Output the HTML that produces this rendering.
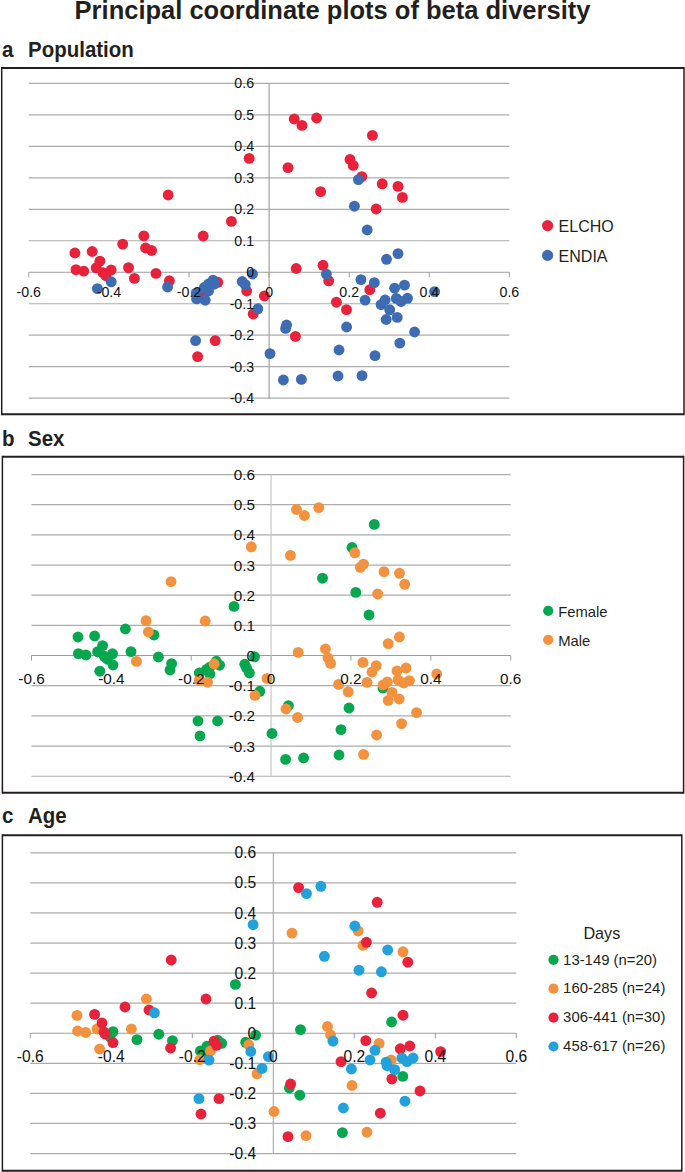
<!DOCTYPE html><html><head><meta charset="utf-8"><style>html,body{margin:0;padding:0;background:#fff}svg{display:block}</style></head><body><svg width="685" height="1172" viewBox="0 0 685 1172">
<style>.ax{font-family:"Liberation Sans",sans-serif;fill:#111}.lg{font:16px "Liberation Sans",sans-serif;fill:#231f20}.t{font:bold 25.5px "Liberation Sans",sans-serif;fill:#231f20}.h{font:bold 20.5px "Liberation Sans",sans-serif;fill:#231f20}</style>
<rect width="685" height="1172" fill="#fff"/>
<text x="332.5" y="19" text-anchor="middle" class="t">Principal coordinate plots of beta diversity</text>
<g transform="translate(0,57.0) scale(1,1.05)"><text x="2" y="0" class="h">a</text><text x="28" y="0" class="h">Population</text></g>
<g transform="translate(0,446.4) scale(1,1.05)"><text x="2" y="0" class="h">b</text><text x="28" y="0" class="h">Sex</text></g>
<g transform="translate(0,823.2) scale(1,1.05)"><text x="2" y="0" class="h">c</text><text x="28" y="0" class="h">Age</text></g>
<path d="M1.7,68.0H684.0M1.7,414.2H684.0" stroke="#231f20" stroke-width="1.9" fill="none"/>
<path d="M1.7,67.05V415.15M684.0,67.05V415.15" stroke="#231f20" stroke-width="1.5" fill="none"/>
<path d="M2.4,456.8H683.6M2.4,792.8H683.6" stroke="#231f20" stroke-width="1.9" fill="none"/>
<path d="M2.4,455.85V793.75M683.6,455.85V793.75" stroke="#231f20" stroke-width="1.5" fill="none"/>
<path d="M2.4,835.2H681.8M2.4,1170.8H681.8" stroke="#231f20" stroke-width="1.9" fill="none"/>
<path d="M2.4,834.25V1171.75M681.8,834.25V1171.75" stroke="#231f20" stroke-width="1.5" fill="none"/>
<line x1="28.8" y1="83.37" x2="509.4" y2="83.37" stroke="#acacac" stroke-width="1.2"/>
<line x1="28.8" y1="114.85" x2="509.4" y2="114.85" stroke="#acacac" stroke-width="1.2"/>
<line x1="28.8" y1="146.33" x2="509.4" y2="146.33" stroke="#acacac" stroke-width="1.2"/>
<line x1="28.8" y1="177.81" x2="509.4" y2="177.81" stroke="#acacac" stroke-width="1.2"/>
<line x1="28.8" y1="209.29" x2="509.4" y2="209.29" stroke="#acacac" stroke-width="1.2"/>
<line x1="28.8" y1="240.77" x2="509.4" y2="240.77" stroke="#acacac" stroke-width="1.2"/>
<line x1="28.8" y1="303.73" x2="509.4" y2="303.73" stroke="#acacac" stroke-width="1.2"/>
<line x1="28.8" y1="335.21" x2="509.4" y2="335.21" stroke="#acacac" stroke-width="1.2"/>
<line x1="28.8" y1="366.69" x2="509.4" y2="366.69" stroke="#acacac" stroke-width="1.2"/>
<line x1="28.8" y1="398.17" x2="509.4" y2="398.17" stroke="#acacac" stroke-width="1.2"/>
<line x1="28.8" y1="272.25" x2="509.4" y2="272.25" stroke="#9c9c9c" stroke-width="1.1"/>
<line x1="28.8" y1="272.25" x2="28.8" y2="277.25" stroke="#9c9c9c" stroke-width="1"/>
<line x1="108.9" y1="272.25" x2="108.9" y2="277.25" stroke="#9c9c9c" stroke-width="1"/>
<line x1="189" y1="272.25" x2="189" y2="277.25" stroke="#9c9c9c" stroke-width="1"/>
<line x1="269.1" y1="272.25" x2="269.1" y2="277.25" stroke="#9c9c9c" stroke-width="1"/>
<line x1="349.2" y1="272.25" x2="349.2" y2="277.25" stroke="#9c9c9c" stroke-width="1"/>
<line x1="429.3" y1="272.25" x2="429.3" y2="277.25" stroke="#9c9c9c" stroke-width="1"/>
<line x1="509.4" y1="272.25" x2="509.4" y2="277.25" stroke="#9c9c9c" stroke-width="1"/>
<line x1="269.1" y1="83.37" x2="269.1" y2="398.17" stroke="#9a9a9a" stroke-width="1.1"/>
<circle cx="294.2" cy="119" r="5.45" fill="#e8223a"/>
<circle cx="302" cy="125.4" r="5.45" fill="#e8223a"/>
<circle cx="316.6" cy="118" r="5.45" fill="#e8223a"/>
<circle cx="372.4" cy="135.4" r="5.45" fill="#e8223a"/>
<circle cx="249.2" cy="158.4" r="5.45" fill="#e8223a"/>
<circle cx="288" cy="167.6" r="5.45" fill="#e8223a"/>
<circle cx="350" cy="159.4" r="5.45" fill="#e8223a"/>
<circle cx="353.2" cy="165.4" r="5.45" fill="#e8223a"/>
<circle cx="361.8" cy="176.6" r="5.45" fill="#e8223a"/>
<circle cx="382.2" cy="183.8" r="5.45" fill="#e8223a"/>
<circle cx="398" cy="186.4" r="5.45" fill="#e8223a"/>
<circle cx="402.4" cy="197.4" r="5.45" fill="#e8223a"/>
<circle cx="320.6" cy="191.6" r="5.45" fill="#e8223a"/>
<circle cx="376.2" cy="209" r="5.45" fill="#e8223a"/>
<circle cx="168.2" cy="195" r="5.45" fill="#e8223a"/>
<circle cx="231.4" cy="221.4" r="5.45" fill="#e8223a"/>
<circle cx="203.2" cy="236" r="5.45" fill="#e8223a"/>
<circle cx="143.8" cy="235.9" r="5.45" fill="#e8223a"/>
<circle cx="122.7" cy="244.1" r="5.45" fill="#e8223a"/>
<circle cx="145.6" cy="248" r="5.45" fill="#e8223a"/>
<circle cx="151.6" cy="250.5" r="5.45" fill="#e8223a"/>
<circle cx="74.9" cy="253" r="5.45" fill="#e8223a"/>
<circle cx="92.2" cy="251.5" r="5.45" fill="#e8223a"/>
<circle cx="99.9" cy="261.2" r="5.45" fill="#e8223a"/>
<circle cx="76" cy="269.7" r="5.45" fill="#e8223a"/>
<circle cx="83.7" cy="271.1" r="5.45" fill="#e8223a"/>
<circle cx="96.2" cy="267.8" r="5.45" fill="#e8223a"/>
<circle cx="102.9" cy="272.6" r="5.45" fill="#e8223a"/>
<circle cx="111.1" cy="270" r="5.45" fill="#e8223a"/>
<circle cx="106" cy="275.7" r="5.45" fill="#e8223a"/>
<circle cx="128.5" cy="267.7" r="5.45" fill="#e8223a"/>
<circle cx="134.4" cy="278.4" r="5.45" fill="#e8223a"/>
<circle cx="156" cy="273.4" r="5.45" fill="#e8223a"/>
<circle cx="169.4" cy="280.8" r="5.45" fill="#e8223a"/>
<circle cx="217.8" cy="282.3" r="5.45" fill="#e8223a"/>
<circle cx="202.4" cy="294.8" r="5.45" fill="#e8223a"/>
<circle cx="246.7" cy="291" r="5.45" fill="#e8223a"/>
<circle cx="264.4" cy="296" r="5.45" fill="#e8223a"/>
<circle cx="253.2" cy="314" r="5.45" fill="#e8223a"/>
<circle cx="296.2" cy="268.5" r="5.45" fill="#e8223a"/>
<circle cx="323" cy="265.3" r="5.45" fill="#e8223a"/>
<circle cx="328.7" cy="280.8" r="5.45" fill="#e8223a"/>
<circle cx="369.8" cy="289.7" r="5.45" fill="#e8223a"/>
<circle cx="336.4" cy="302.2" r="5.45" fill="#e8223a"/>
<circle cx="346.5" cy="309.6" r="5.45" fill="#e8223a"/>
<circle cx="295.4" cy="336.4" r="5.45" fill="#e8223a"/>
<circle cx="215.2" cy="340.6" r="5.45" fill="#e8223a"/>
<circle cx="197.6" cy="356.6" r="5.45" fill="#e8223a"/>
<circle cx="358.4" cy="179.6" r="5.45" fill="#3e6cb3"/>
<circle cx="354.4" cy="206.2" r="5.45" fill="#3e6cb3"/>
<circle cx="367.2" cy="230" r="5.45" fill="#3e6cb3"/>
<circle cx="398" cy="253.6" r="5.45" fill="#3e6cb3"/>
<circle cx="386.5" cy="259.3" r="5.45" fill="#3e6cb3"/>
<circle cx="326.4" cy="274.1" r="5.45" fill="#3e6cb3"/>
<circle cx="360.9" cy="279.6" r="5.45" fill="#3e6cb3"/>
<circle cx="374.3" cy="282.7" r="5.45" fill="#3e6cb3"/>
<circle cx="394.6" cy="288.2" r="5.45" fill="#3e6cb3"/>
<circle cx="404.5" cy="285.1" r="5.45" fill="#3e6cb3"/>
<circle cx="365.1" cy="300.1" r="5.45" fill="#3e6cb3"/>
<circle cx="385.1" cy="300" r="5.45" fill="#3e6cb3"/>
<circle cx="381.1" cy="304.6" r="5.45" fill="#3e6cb3"/>
<circle cx="396.3" cy="298.4" r="5.45" fill="#3e6cb3"/>
<circle cx="401" cy="301.5" r="5.45" fill="#3e6cb3"/>
<circle cx="407.5" cy="298.3" r="5.45" fill="#3e6cb3"/>
<circle cx="389.7" cy="309.8" r="5.45" fill="#3e6cb3"/>
<circle cx="386.2" cy="319.5" r="5.45" fill="#3e6cb3"/>
<circle cx="397.2" cy="317.4" r="5.45" fill="#3e6cb3"/>
<circle cx="414.6" cy="332" r="5.45" fill="#3e6cb3"/>
<circle cx="399.8" cy="343.1" r="5.45" fill="#3e6cb3"/>
<circle cx="375" cy="355.6" r="5.45" fill="#3e6cb3"/>
<circle cx="362" cy="375.6" r="5.45" fill="#3e6cb3"/>
<circle cx="338" cy="376" r="5.45" fill="#3e6cb3"/>
<circle cx="339" cy="350" r="5.45" fill="#3e6cb3"/>
<circle cx="346.6" cy="327" r="5.45" fill="#3e6cb3"/>
<circle cx="286.6" cy="325" r="5.45" fill="#3e6cb3"/>
<circle cx="285.6" cy="328.4" r="5.45" fill="#3e6cb3"/>
<circle cx="270" cy="353.6" r="5.45" fill="#3e6cb3"/>
<circle cx="283.4" cy="380" r="5.45" fill="#3e6cb3"/>
<circle cx="301.4" cy="379.4" r="5.45" fill="#3e6cb3"/>
<circle cx="257.8" cy="308.8" r="5.45" fill="#3e6cb3"/>
<circle cx="252.5" cy="274" r="5.45" fill="#3e6cb3"/>
<circle cx="242.2" cy="281.5" r="5.45" fill="#3e6cb3"/>
<circle cx="245.3" cy="284.6" r="5.45" fill="#3e6cb3"/>
<circle cx="213.1" cy="280.3" r="5.45" fill="#3e6cb3"/>
<circle cx="214.2" cy="284.2" r="5.45" fill="#3e6cb3"/>
<circle cx="208.5" cy="284" r="5.45" fill="#3e6cb3"/>
<circle cx="204.4" cy="287.4" r="5.45" fill="#3e6cb3"/>
<circle cx="208.5" cy="291" r="5.45" fill="#3e6cb3"/>
<circle cx="196.2" cy="293" r="5.45" fill="#3e6cb3"/>
<circle cx="196.6" cy="298.9" r="5.45" fill="#3e6cb3"/>
<circle cx="205.2" cy="300.2" r="5.45" fill="#3e6cb3"/>
<circle cx="195.6" cy="340.6" r="5.45" fill="#3e6cb3"/>
<circle cx="167.6" cy="287" r="5.45" fill="#3e6cb3"/>
<circle cx="111.2" cy="281.8" r="5.45" fill="#3e6cb3"/>
<circle cx="97.4" cy="288.6" r="5.45" fill="#3e6cb3"/>
<circle cx="434.6" cy="291.6" r="5.45" fill="#3e6cb3"/>
<text x="254.1" y="88.45" text-anchor="end" class="ax" font-size="14.2">0.6</text>
<text x="254.1" y="119.93" text-anchor="end" class="ax" font-size="14.2">0.5</text>
<text x="254.1" y="151.41" text-anchor="end" class="ax" font-size="14.2">0.4</text>
<text x="254.1" y="182.89" text-anchor="end" class="ax" font-size="14.2">0.3</text>
<text x="254.1" y="214.37" text-anchor="end" class="ax" font-size="14.2">0.2</text>
<text x="254.1" y="245.85" text-anchor="end" class="ax" font-size="14.2">0.1</text>
<text x="254.1" y="277.33" text-anchor="end" class="ax" font-size="14.2">0</text>
<text x="254.1" y="308.81" text-anchor="end" class="ax" font-size="14.2">-0.1</text>
<text x="254.1" y="340.29" text-anchor="end" class="ax" font-size="14.2">-0.2</text>
<text x="254.1" y="371.77" text-anchor="end" class="ax" font-size="14.2">-0.3</text>
<text x="254.1" y="403.25" text-anchor="end" class="ax" font-size="14.2">-0.4</text>
<text x="28.8" y="297.33" text-anchor="middle" class="ax" font-size="14.2">-0.6</text>
<text x="108.9" y="297.33" text-anchor="middle" class="ax" font-size="14.2">-0.4</text>
<text x="189" y="297.33" text-anchor="middle" class="ax" font-size="14.2">-0.2</text>
<text x="269.1" y="297.33" text-anchor="middle" class="ax" font-size="14.2">0</text>
<text x="349.2" y="297.33" text-anchor="middle" class="ax" font-size="14.2">0.2</text>
<text x="429.3" y="297.33" text-anchor="middle" class="ax" font-size="14.2">0.4</text>
<text x="509.4" y="297.33" text-anchor="middle" class="ax" font-size="14.2">0.6</text>
<line x1="31.52" y1="474.53" x2="510.68" y2="474.53" stroke="#acacac" stroke-width="1.2"/>
<line x1="31.52" y1="504.7" x2="510.68" y2="504.7" stroke="#acacac" stroke-width="1.2"/>
<line x1="31.52" y1="534.87" x2="510.68" y2="534.87" stroke="#acacac" stroke-width="1.2"/>
<line x1="31.52" y1="565.04" x2="510.68" y2="565.04" stroke="#acacac" stroke-width="1.2"/>
<line x1="31.52" y1="595.21" x2="510.68" y2="595.21" stroke="#acacac" stroke-width="1.2"/>
<line x1="31.52" y1="625.38" x2="510.68" y2="625.38" stroke="#acacac" stroke-width="1.2"/>
<line x1="31.52" y1="685.72" x2="510.68" y2="685.72" stroke="#acacac" stroke-width="1.2"/>
<line x1="31.52" y1="715.89" x2="510.68" y2="715.89" stroke="#acacac" stroke-width="1.2"/>
<line x1="31.52" y1="746.06" x2="510.68" y2="746.06" stroke="#acacac" stroke-width="1.2"/>
<line x1="31.52" y1="776.23" x2="510.68" y2="776.23" stroke="#acacac" stroke-width="1.2"/>
<line x1="31.52" y1="655.55" x2="510.68" y2="655.55" stroke="#9c9c9c" stroke-width="1.1"/>
<line x1="31.52" y1="655.55" x2="31.52" y2="660.55" stroke="#9c9c9c" stroke-width="1"/>
<line x1="111.38" y1="655.55" x2="111.38" y2="660.55" stroke="#9c9c9c" stroke-width="1"/>
<line x1="191.24" y1="655.55" x2="191.24" y2="660.55" stroke="#9c9c9c" stroke-width="1"/>
<line x1="271.1" y1="655.55" x2="271.1" y2="660.55" stroke="#9c9c9c" stroke-width="1"/>
<line x1="350.96" y1="655.55" x2="350.96" y2="660.55" stroke="#9c9c9c" stroke-width="1"/>
<line x1="430.82" y1="655.55" x2="430.82" y2="660.55" stroke="#9c9c9c" stroke-width="1"/>
<line x1="510.68" y1="655.55" x2="510.68" y2="660.55" stroke="#9c9c9c" stroke-width="1"/>
<line x1="271.1" y1="474.53" x2="271.1" y2="776.23" stroke="#c4c4c4" stroke-width="1.1"/>
<circle cx="78" cy="637" r="5.45" fill="#07a750"/>
<circle cx="94.6" cy="636" r="5.45" fill="#07a750"/>
<circle cx="125.4" cy="629" r="5.45" fill="#07a750"/>
<circle cx="154" cy="635" r="5.45" fill="#07a750"/>
<circle cx="102.6" cy="645.6" r="5.45" fill="#07a750"/>
<circle cx="78.4" cy="653.6" r="5.45" fill="#07a750"/>
<circle cx="86" cy="655" r="5.45" fill="#07a750"/>
<circle cx="131" cy="651.6" r="5.45" fill="#07a750"/>
<circle cx="158.4" cy="657" r="5.45" fill="#07a750"/>
<circle cx="113" cy="665" r="5.45" fill="#07a750"/>
<circle cx="99.8" cy="671.2" r="5.45" fill="#07a750"/>
<circle cx="171.6" cy="663.6" r="5.45" fill="#07a750"/>
<circle cx="170" cy="670" r="5.45" fill="#07a750"/>
<circle cx="219.6" cy="665.2" r="5.45" fill="#07a750"/>
<circle cx="206.5" cy="669.4" r="5.45" fill="#07a750"/>
<circle cx="199.3" cy="673" r="5.45" fill="#07a750"/>
<circle cx="244.8" cy="664.3" r="5.45" fill="#07a750"/>
<circle cx="249.4" cy="673" r="5.45" fill="#07a750"/>
<circle cx="254.5" cy="656.8" r="5.45" fill="#07a750"/>
<circle cx="259.8" cy="691.3" r="5.45" fill="#07a750"/>
<circle cx="198" cy="721" r="5.45" fill="#07a750"/>
<circle cx="217.6" cy="721" r="5.45" fill="#07a750"/>
<circle cx="200" cy="736" r="5.45" fill="#07a750"/>
<circle cx="272" cy="733.5" r="5.45" fill="#07a750"/>
<circle cx="288.4" cy="705.6" r="5.45" fill="#07a750"/>
<circle cx="383" cy="688" r="5.45" fill="#07a750"/>
<circle cx="349" cy="708" r="5.45" fill="#07a750"/>
<circle cx="341" cy="729.6" r="5.45" fill="#07a750"/>
<circle cx="285.6" cy="759.4" r="5.45" fill="#07a750"/>
<circle cx="303.6" cy="758" r="5.45" fill="#07a750"/>
<circle cx="339" cy="755" r="5.45" fill="#07a750"/>
<circle cx="374.3" cy="524.4" r="5.45" fill="#07a750"/>
<circle cx="352" cy="547.5" r="5.45" fill="#07a750"/>
<circle cx="322.5" cy="578.2" r="5.45" fill="#07a750"/>
<circle cx="355.8" cy="592.4" r="5.45" fill="#07a750"/>
<circle cx="234" cy="606.4" r="5.45" fill="#07a750"/>
<circle cx="369" cy="615" r="5.45" fill="#07a750"/>
<circle cx="216.2" cy="661.3" r="5.45" fill="#07a750"/>
<circle cx="97.6" cy="651.7" r="5.45" fill="#07a750"/>
<circle cx="104.3" cy="656.3" r="5.45" fill="#07a750"/>
<circle cx="112.5" cy="653.8" r="5.45" fill="#07a750"/>
<circle cx="107.4" cy="659.2" r="5.45" fill="#07a750"/>
<circle cx="246.5" cy="667.8" r="5.45" fill="#07a750"/>
<circle cx="209.8" cy="667.2" r="5.45" fill="#07a750"/>
<circle cx="209.8" cy="673.9" r="5.45" fill="#07a750"/>
<circle cx="146" cy="620.6" r="5.45" fill="#f2923f"/>
<circle cx="148.4" cy="632" r="5.45" fill="#f2923f"/>
<circle cx="136.4" cy="661.4" r="5.45" fill="#f2923f"/>
<circle cx="214.1" cy="663.8" r="5.45" fill="#f2923f"/>
<circle cx="199.3" cy="680.1" r="5.45" fill="#f2923f"/>
<circle cx="207.5" cy="682.2" r="5.45" fill="#f2923f"/>
<circle cx="267" cy="678.4" r="5.45" fill="#f2923f"/>
<circle cx="255" cy="695.4" r="5.45" fill="#f2923f"/>
<circle cx="286" cy="709" r="5.45" fill="#f2923f"/>
<circle cx="298.2" cy="652.4" r="5.45" fill="#f2923f"/>
<circle cx="325.4" cy="649" r="5.45" fill="#f2923f"/>
<circle cx="328" cy="658" r="5.45" fill="#f2923f"/>
<circle cx="330.6" cy="663.4" r="5.45" fill="#f2923f"/>
<circle cx="363" cy="662.4" r="5.45" fill="#f2923f"/>
<circle cx="376.2" cy="665.6" r="5.45" fill="#f2923f"/>
<circle cx="372" cy="672" r="5.45" fill="#f2923f"/>
<circle cx="397" cy="671" r="5.45" fill="#f2923f"/>
<circle cx="406" cy="668" r="5.45" fill="#f2923f"/>
<circle cx="398" cy="680" r="5.45" fill="#f2923f"/>
<circle cx="403.6" cy="683" r="5.45" fill="#f2923f"/>
<circle cx="409.4" cy="680.6" r="5.45" fill="#f2923f"/>
<circle cx="367" cy="682.4" r="5.45" fill="#f2923f"/>
<circle cx="387.4" cy="682" r="5.45" fill="#f2923f"/>
<circle cx="383" cy="685" r="5.45" fill="#f2923f"/>
<circle cx="392" cy="692.4" r="5.45" fill="#f2923f"/>
<circle cx="388.2" cy="700.4" r="5.45" fill="#f2923f"/>
<circle cx="399.2" cy="699" r="5.45" fill="#f2923f"/>
<circle cx="338.6" cy="684.4" r="5.45" fill="#f2923f"/>
<circle cx="348.2" cy="691.8" r="5.45" fill="#f2923f"/>
<circle cx="297.6" cy="717.5" r="5.45" fill="#f2923f"/>
<circle cx="401.6" cy="723.6" r="5.45" fill="#f2923f"/>
<circle cx="416.6" cy="712.6" r="5.45" fill="#f2923f"/>
<circle cx="376.6" cy="735" r="5.45" fill="#f2923f"/>
<circle cx="388.2" cy="643.6" r="5.45" fill="#f2923f"/>
<circle cx="399.4" cy="637" r="5.45" fill="#f2923f"/>
<circle cx="363.6" cy="754.4" r="5.45" fill="#f2923f"/>
<circle cx="296.5" cy="509.5" r="5.45" fill="#f2923f"/>
<circle cx="304.4" cy="515.5" r="5.45" fill="#f2923f"/>
<circle cx="318.8" cy="507.6" r="5.45" fill="#f2923f"/>
<circle cx="251.3" cy="546.8" r="5.45" fill="#f2923f"/>
<circle cx="290.4" cy="555.4" r="5.45" fill="#f2923f"/>
<circle cx="354.8" cy="552.8" r="5.45" fill="#f2923f"/>
<circle cx="363.5" cy="564.1" r="5.45" fill="#f2923f"/>
<circle cx="360.3" cy="567.3" r="5.45" fill="#f2923f"/>
<circle cx="384" cy="571.7" r="5.45" fill="#f2923f"/>
<circle cx="399.5" cy="573.3" r="5.45" fill="#f2923f"/>
<circle cx="404.7" cy="584.3" r="5.45" fill="#f2923f"/>
<circle cx="377.7" cy="594" r="5.45" fill="#f2923f"/>
<circle cx="171" cy="581.6" r="5.45" fill="#f2923f"/>
<circle cx="205.2" cy="621" r="5.45" fill="#f2923f"/>
<circle cx="436.7" cy="674" r="5.45" fill="#f2923f"/>
<text x="255.1" y="480.01" text-anchor="end" class="ax" font-size="15.3">0.6</text>
<text x="255.1" y="510.18" text-anchor="end" class="ax" font-size="15.3">0.5</text>
<text x="255.1" y="540.35" text-anchor="end" class="ax" font-size="15.3">0.4</text>
<text x="255.1" y="570.52" text-anchor="end" class="ax" font-size="15.3">0.3</text>
<text x="255.1" y="600.69" text-anchor="end" class="ax" font-size="15.3">0.2</text>
<text x="255.1" y="630.86" text-anchor="end" class="ax" font-size="15.3">0.1</text>
<text x="255.1" y="661.03" text-anchor="end" class="ax" font-size="15.3">0</text>
<text x="255.1" y="691.2" text-anchor="end" class="ax" font-size="15.3">-0.1</text>
<text x="255.1" y="721.37" text-anchor="end" class="ax" font-size="15.3">-0.2</text>
<text x="255.1" y="751.54" text-anchor="end" class="ax" font-size="15.3">-0.3</text>
<text x="255.1" y="781.71" text-anchor="end" class="ax" font-size="15.3">-0.4</text>
<text x="31.52" y="684.03" text-anchor="middle" class="ax" font-size="15.3">-0.6</text>
<text x="111.38" y="684.03" text-anchor="middle" class="ax" font-size="15.3">-0.4</text>
<text x="191.24" y="684.03" text-anchor="middle" class="ax" font-size="15.3">-0.2</text>
<text x="271.1" y="684.03" text-anchor="middle" class="ax" font-size="15.3">0</text>
<text x="350.96" y="684.03" text-anchor="middle" class="ax" font-size="15.3">0.2</text>
<text x="430.82" y="684.03" text-anchor="middle" class="ax" font-size="15.3">0.4</text>
<text x="510.68" y="684.03" text-anchor="middle" class="ax" font-size="15.3">0.6</text>
<line x1="30.3" y1="852.83" x2="516.3" y2="852.83" stroke="#acacac" stroke-width="1.2"/>
<line x1="30.3" y1="882.9" x2="516.3" y2="882.9" stroke="#acacac" stroke-width="1.2"/>
<line x1="30.3" y1="912.97" x2="516.3" y2="912.97" stroke="#acacac" stroke-width="1.2"/>
<line x1="30.3" y1="943.04" x2="516.3" y2="943.04" stroke="#acacac" stroke-width="1.2"/>
<line x1="30.3" y1="973.11" x2="516.3" y2="973.11" stroke="#acacac" stroke-width="1.2"/>
<line x1="30.3" y1="1003.18" x2="516.3" y2="1003.18" stroke="#acacac" stroke-width="1.2"/>
<line x1="30.3" y1="1063.32" x2="516.3" y2="1063.32" stroke="#acacac" stroke-width="1.2"/>
<line x1="30.3" y1="1093.39" x2="516.3" y2="1093.39" stroke="#acacac" stroke-width="1.2"/>
<line x1="30.3" y1="1123.46" x2="516.3" y2="1123.46" stroke="#acacac" stroke-width="1.2"/>
<line x1="30.3" y1="1153.53" x2="516.3" y2="1153.53" stroke="#acacac" stroke-width="1.2"/>
<line x1="30.3" y1="1033.25" x2="516.3" y2="1033.25" stroke="#9c9c9c" stroke-width="1.1"/>
<line x1="30.3" y1="1033.25" x2="30.3" y2="1038.25" stroke="#9c9c9c" stroke-width="1"/>
<line x1="111.3" y1="1033.25" x2="111.3" y2="1038.25" stroke="#9c9c9c" stroke-width="1"/>
<line x1="192.3" y1="1033.25" x2="192.3" y2="1038.25" stroke="#9c9c9c" stroke-width="1"/>
<line x1="273.3" y1="1033.25" x2="273.3" y2="1038.25" stroke="#9c9c9c" stroke-width="1"/>
<line x1="354.3" y1="1033.25" x2="354.3" y2="1038.25" stroke="#9c9c9c" stroke-width="1"/>
<line x1="435.3" y1="1033.25" x2="435.3" y2="1038.25" stroke="#9c9c9c" stroke-width="1"/>
<line x1="516.3" y1="1033.25" x2="516.3" y2="1038.25" stroke="#9c9c9c" stroke-width="1"/>
<line x1="273.3" y1="852.83" x2="273.3" y2="1153.53" stroke="#a8a8a8" stroke-width="1.1"/>
<circle cx="113" cy="1031.6" r="5.45" fill="#07a750"/>
<circle cx="110" cy="1037" r="5.45" fill="#07a750"/>
<circle cx="137" cy="1039.6" r="5.45" fill="#07a750"/>
<circle cx="158.8" cy="1034.2" r="5.45" fill="#07a750"/>
<circle cx="172.4" cy="1040.6" r="5.45" fill="#07a750"/>
<circle cx="217.6" cy="1040.2" r="5.45" fill="#07a750"/>
<circle cx="221.7" cy="1043.3" r="5.45" fill="#07a750"/>
<circle cx="206.9" cy="1046.3" r="5.45" fill="#07a750"/>
<circle cx="200.3" cy="1051" r="5.45" fill="#07a750"/>
<circle cx="245.7" cy="1042.3" r="5.45" fill="#07a750"/>
<circle cx="255.6" cy="1035.1" r="5.45" fill="#07a750"/>
<circle cx="300.5" cy="1029.6" r="5.45" fill="#07a750"/>
<circle cx="402.8" cy="1076.4" r="5.45" fill="#07a750"/>
<circle cx="289.4" cy="1088" r="5.45" fill="#07a750"/>
<circle cx="299.8" cy="1095.2" r="5.45" fill="#07a750"/>
<circle cx="391.6" cy="1022" r="5.45" fill="#07a750"/>
<circle cx="235.4" cy="984.4" r="5.45" fill="#07a750"/>
<circle cx="342.4" cy="1132.6" r="5.45" fill="#07a750"/>
<circle cx="205.8" cy="1055.1" r="5.45" fill="#07a750"/>
<circle cx="77" cy="1015.4" r="5.45" fill="#f2923f"/>
<circle cx="146.4" cy="999" r="5.45" fill="#f2923f"/>
<circle cx="77.6" cy="1031" r="5.45" fill="#f2923f"/>
<circle cx="85.6" cy="1032.4" r="5.45" fill="#f2923f"/>
<circle cx="97" cy="1029" r="5.45" fill="#f2923f"/>
<circle cx="131.4" cy="1029" r="5.45" fill="#f2923f"/>
<circle cx="99.6" cy="1049" r="5.45" fill="#f2923f"/>
<circle cx="210.5" cy="1051" r="5.45" fill="#f2923f"/>
<circle cx="199.8" cy="1059.6" r="5.45" fill="#f2923f"/>
<circle cx="248.8" cy="1044.8" r="5.45" fill="#f2923f"/>
<circle cx="257" cy="1073.8" r="5.45" fill="#f2923f"/>
<circle cx="274" cy="1111.5" r="5.45" fill="#f2923f"/>
<circle cx="327.5" cy="1026.5" r="5.45" fill="#f2923f"/>
<circle cx="330.6" cy="1035" r="5.45" fill="#f2923f"/>
<circle cx="379.1" cy="1043.4" r="5.45" fill="#f2923f"/>
<circle cx="391.2" cy="1060" r="5.45" fill="#f2923f"/>
<circle cx="352" cy="1085.5" r="5.45" fill="#f2923f"/>
<circle cx="292" cy="933.1" r="5.45" fill="#f2923f"/>
<circle cx="358.2" cy="931" r="5.45" fill="#f2923f"/>
<circle cx="363" cy="945.4" r="5.45" fill="#f2923f"/>
<circle cx="403" cy="951.8" r="5.45" fill="#f2923f"/>
<circle cx="306" cy="1135.6" r="5.45" fill="#f2923f"/>
<circle cx="367" cy="1132.2" r="5.45" fill="#f2923f"/>
<circle cx="94.6" cy="1014.4" r="5.45" fill="#e8223a"/>
<circle cx="125" cy="1007" r="5.45" fill="#e8223a"/>
<circle cx="149" cy="1010" r="5.45" fill="#e8223a"/>
<circle cx="102" cy="1023" r="5.45" fill="#e8223a"/>
<circle cx="104" cy="1032" r="5.45" fill="#e8223a"/>
<circle cx="105" cy="1034" r="5.45" fill="#e8223a"/>
<circle cx="113" cy="1042.6" r="5.45" fill="#e8223a"/>
<circle cx="170.6" cy="1048" r="5.45" fill="#e8223a"/>
<circle cx="214" cy="1041.2" r="5.45" fill="#e8223a"/>
<circle cx="216.6" cy="1045.3" r="5.45" fill="#e8223a"/>
<circle cx="219" cy="1098.6" r="5.45" fill="#e8223a"/>
<circle cx="201" cy="1114" r="5.45" fill="#e8223a"/>
<circle cx="365.8" cy="1040.6" r="5.45" fill="#e8223a"/>
<circle cx="341" cy="1061.6" r="5.45" fill="#e8223a"/>
<circle cx="400.3" cy="1048.8" r="5.45" fill="#e8223a"/>
<circle cx="409.8" cy="1046" r="5.45" fill="#e8223a"/>
<circle cx="391.8" cy="1079" r="5.45" fill="#e8223a"/>
<circle cx="290.6" cy="1084" r="5.45" fill="#e8223a"/>
<circle cx="420" cy="1091" r="5.45" fill="#e8223a"/>
<circle cx="380.3" cy="1113.2" r="5.45" fill="#e8223a"/>
<circle cx="403" cy="1015.2" r="5.45" fill="#e8223a"/>
<circle cx="371.6" cy="993" r="5.45" fill="#e8223a"/>
<circle cx="298.6" cy="887.6" r="5.45" fill="#e8223a"/>
<circle cx="377.2" cy="902.3" r="5.45" fill="#e8223a"/>
<circle cx="366.4" cy="942.3" r="5.45" fill="#e8223a"/>
<circle cx="407.8" cy="962.2" r="5.45" fill="#e8223a"/>
<circle cx="171.2" cy="960" r="5.45" fill="#e8223a"/>
<circle cx="206" cy="999" r="5.45" fill="#e8223a"/>
<circle cx="288" cy="1136.6" r="5.45" fill="#e8223a"/>
<circle cx="440.6" cy="1051.6" r="5.45" fill="#e8223a"/>
<circle cx="154.4" cy="1012.8" r="5.45" fill="#22a1db"/>
<circle cx="209" cy="1060.1" r="5.45" fill="#22a1db"/>
<circle cx="250.8" cy="1051.5" r="5.45" fill="#22a1db"/>
<circle cx="268.4" cy="1056.6" r="5.45" fill="#22a1db"/>
<circle cx="262" cy="1068.4" r="5.45" fill="#22a1db"/>
<circle cx="199" cy="1098.6" r="5.45" fill="#22a1db"/>
<circle cx="333" cy="1041.2" r="5.45" fill="#22a1db"/>
<circle cx="375" cy="1050.3" r="5.45" fill="#22a1db"/>
<circle cx="370" cy="1060" r="5.45" fill="#22a1db"/>
<circle cx="351.4" cy="1069" r="5.45" fill="#22a1db"/>
<circle cx="386.1" cy="1062.1" r="5.45" fill="#22a1db"/>
<circle cx="387.1" cy="1065.7" r="5.45" fill="#22a1db"/>
<circle cx="401.9" cy="1058" r="5.45" fill="#22a1db"/>
<circle cx="407" cy="1061.6" r="5.45" fill="#22a1db"/>
<circle cx="413.1" cy="1058" r="5.45" fill="#22a1db"/>
<circle cx="394.7" cy="1069.7" r="5.45" fill="#22a1db"/>
<circle cx="405" cy="1101.2" r="5.45" fill="#22a1db"/>
<circle cx="343.4" cy="1108" r="5.45" fill="#22a1db"/>
<circle cx="306.5" cy="893.6" r="5.45" fill="#22a1db"/>
<circle cx="320.9" cy="886.3" r="5.45" fill="#22a1db"/>
<circle cx="253.1" cy="924.7" r="5.45" fill="#22a1db"/>
<circle cx="354.8" cy="926" r="5.45" fill="#22a1db"/>
<circle cx="387.7" cy="950" r="5.45" fill="#22a1db"/>
<circle cx="324.4" cy="956.3" r="5.45" fill="#22a1db"/>
<circle cx="359" cy="970.2" r="5.45" fill="#22a1db"/>
<circle cx="381.4" cy="971.8" r="5.45" fill="#22a1db"/>
<text x="256.2" y="858.41" text-anchor="end" class="ax" font-size="15.6">0.6</text>
<text x="256.2" y="888.48" text-anchor="end" class="ax" font-size="15.6">0.5</text>
<text x="256.2" y="918.55" text-anchor="end" class="ax" font-size="15.6">0.4</text>
<text x="256.2" y="948.62" text-anchor="end" class="ax" font-size="15.6">0.3</text>
<text x="256.2" y="978.69" text-anchor="end" class="ax" font-size="15.6">0.2</text>
<text x="256.2" y="1008.76" text-anchor="end" class="ax" font-size="15.6">0.1</text>
<text x="256.2" y="1038.83" text-anchor="end" class="ax" font-size="15.6">0</text>
<text x="256.2" y="1068.9" text-anchor="end" class="ax" font-size="15.6">-0.1</text>
<text x="256.2" y="1098.97" text-anchor="end" class="ax" font-size="15.6">-0.2</text>
<text x="256.2" y="1129.04" text-anchor="end" class="ax" font-size="15.6">-0.3</text>
<text x="256.2" y="1159.11" text-anchor="end" class="ax" font-size="15.6">-0.4</text>
<text x="30.3" y="1062.03" text-anchor="middle" class="ax" font-size="15.6">-0.6</text>
<text x="111.3" y="1062.03" text-anchor="middle" class="ax" font-size="15.6">-0.4</text>
<text x="192.3" y="1062.03" text-anchor="middle" class="ax" font-size="15.6">-0.2</text>
<text x="273.3" y="1062.03" text-anchor="middle" class="ax" font-size="15.6">0</text>
<text x="354.3" y="1062.03" text-anchor="middle" class="ax" font-size="15.6">0.2</text>
<text x="435.3" y="1062.03" text-anchor="middle" class="ax" font-size="15.6">0.4</text>
<text x="516.3" y="1062.03" text-anchor="middle" class="ax" font-size="15.6">0.6</text>
<circle cx="547.6" cy="225.6" r="5.6" fill="#e8223a"/><text x="558.6" y="231.7" class="lg">ELCHO</text>
<circle cx="547.6" cy="255.4" r="5.6" fill="#3e6cb3"/><text x="558.6" y="261.5" class="lg">ENDIA</text>
<circle cx="548.2" cy="610.8" r="5.1" fill="#07a750"/><text x="558.2" y="616.6" class="lg" style="font-size:14.8px">Female</text>
<circle cx="548.2" cy="639.8" r="5.1" fill="#f2923f"/><text x="558.2" y="645.5" class="lg" style="font-size:14.8px">Male</text>
<text x="583.4" y="938.8" class="lg" style="font-size:16.2px">Days</text>
<circle cx="553.5" cy="959.8" r="5.1" fill="#07a750"/><text x="563.1" y="964.5" class="lg" style="font-size:14.9px">13-149 (n=20)</text>
<circle cx="553.5" cy="988.7" r="5.1" fill="#f2923f"/><text x="563.1" y="993.4" class="lg" style="font-size:14.9px">160-285 (n=24)</text>
<circle cx="553.5" cy="1017.6" r="5.1" fill="#e8223a"/><text x="563.1" y="1022.3" class="lg" style="font-size:14.9px">306-441 (n=30)</text>
<circle cx="553.5" cy="1046.5" r="5.1" fill="#22a1db"/><text x="563.1" y="1051.2" class="lg" style="font-size:14.9px">458-617 (n=26)</text>
</svg></body></html>
